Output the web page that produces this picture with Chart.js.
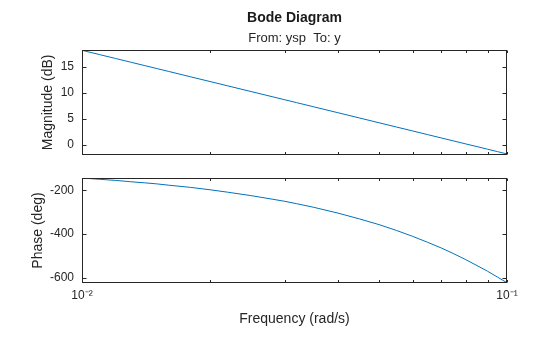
<!DOCTYPE html>
<html>
<head>
<meta charset="utf-8">
<script src="https://cdn.jsdelivr.net/npm/chart.js@4/dist/chart.umd.min.js"></script>
<style>
  html, body { margin: 0; padding: 0; background: #ffffff; }
  #wrap { position: relative; width: 560px; height: 337px; }
  canvas { position: absolute; left: 0; top: 0; }
</style>
</head>
<body>
<div id="wrap">
  <canvas id="mag" width="560" height="337"></canvas>
  <canvas id="phase" width="560" height="337"></canvas>
</div>
<script>
// ---- data ----
const freq = [0.01, 0.011, 0.012, 0.013, 0.014, 0.015, 0.016, 0.018, 0.02, 0.022, 0.025, 0.028,
              0.03, 0.032, 0.035, 0.04, 0.045, 0.05, 0.055, 0.06, 0.065, 0.07, 0.075, 0.08,
              0.085, 0.09, 0.095, 0.1];
const magDb = [18.2, 17.37, 16.62, 15.92, 15.28, 14.68, 14.12, 13.09, 12.18, 11.35, 10.24, 9.26,
               8.66, 8.10, 7.32, 6.16, 5.14, 4.22, 3.39, 2.64, 1.94, 1.30, 0.70, 0.14,
               -0.38, -0.88, -1.35, -1.8];
const phaseDeg = [-143, -149, -154, -160, -165, -170, -176, -186, -197, -208, -224, -240,
                  -250, -261, -277, -304, -331, -357, -384, -411, -438, -464, -491, -518,
                  -545, -571, -598, -624];
const xTickVals = [0.01, 0.02, 0.03, 0.04, 0.05, 0.06, 0.07, 0.08, 0.09, 0.1];
const xTickLabels = {0.01: '10⁻²', 0.1: '10⁻¹'};
const magTicks = [0, 5, 10, 15];
const phaseTicks = [-600, -400, -200];
const magRange = [-1.9, 18.2];
const phaseRange = [-625, -143];

// ---- styles ----
const FONT = '"Liberation Sans", Arial, Helvetica, sans-serif';
const AXC = '#262626';
const LINEC = '#0072BD';

const boxTicks = {
  id: 'boxTicks',
  afterDatasetsDraw(chart) {
    const ctx = chart.ctx, a = chart.chartArea;
    const xs = chart.scales.x, ys = chart.scales.y;
    const L = Math.round(a.left) + 0.5, R = Math.round(a.right) - 0.5;
    const T = Math.round(a.top) + 0.5, B = Math.round(a.bottom) - 0.5;
    ctx.save();
    ctx.strokeStyle = AXC;
    ctx.lineWidth = 1;
    ctx.beginPath();
    xTickVals.forEach(v => {
      const px = Math.round(xs.getPixelForValue(v)) + 0.5;
      ctx.moveTo(px, T); ctx.lineTo(px, T + 2.5);
      ctx.moveTo(px, B); ctx.lineTo(px, B - 2.5);
    });
    ys.ticks.forEach(t => {
      const py = Math.round(ys.getPixelForValue(t.value)) + 0.5;
      ctx.moveTo(L, py); ctx.lineTo(L + 4, py);
      ctx.moveTo(R, py); ctx.lineTo(R - 4, py);
    });
    ctx.stroke();
    ctx.strokeRect(L, T, R - L, B - T);
    ctx.restore();
  }
};

function xScale(showLabels, height, withTitle) {
  return {
    type: 'logarithmic',
    min: xTickVals[0],
    max: xTickVals[xTickVals.length - 1],
    grid: { display: false, drawTicks: false },
    border: { display: false },
    afterBuildTicks: s => { s.ticks = xTickVals.map(v => ({ value: v })); },
    afterFit: s => { s.height = height; },
    ticks: {
      display: showLabels,
      autoSkip: false,
      maxRotation: 0,
      padding: 5,
      color: AXC,
      font: { family: FONT, size: 12 },
      callback: v => xTickLabels[v] || ''
    },
    title: {
      display: withTitle,
      text: 'Frequency (rad/s)',
      color: AXC,
      font: { family: FONT, size: 14 },
      padding: { top: 0, bottom: 9.6 }
    }
  };
}

function yScale(range, tickVals, titleText, titlePad) {
  return {
    type: 'linear',
    min: range[0],
    max: range[1],
    grid: { display: false, drawTicks: false },
    border: { display: false },
    afterBuildTicks: s => { s.ticks = tickVals.map(v => ({ value: v })); },
    afterFit: s => { s.width = 82; },
    ticks: {
      padding: 8,
      color: AXC,
      font: { family: FONT, size: 12 }
    },
    title: {
      display: true,
      text: titleText,
      color: AXC,
      font: { family: FONT, size: 14 },
      padding: { top: titlePad, bottom: 0 }
    }
  };
}

function series(values) {
  return freq.map((f, i) => ({ x: f, y: values[i] }));
}

new Chart(document.getElementById('mag'), {
  type: 'line',
  data: {
    datasets: [{
      data: series(magDb),
      borderColor: LINEC,
      borderWidth: 1,
      pointRadius: 0,
      fill: false,
      tension: 0
    }]
  },
  options: {
    responsive: false,
    animation: false,
    devicePixelRatio: 1,
    layout: { padding: { top: 0, left: 0, right: 53, bottom: 182.5 } },
    plugins: {
      legend: { display: false },
      tooltip: { enabled: false },
      title: {
        display: true,
        fullSize: false,
        text: 'Bode Diagram',
        color: '#1a1a1a',
        font: { family: FONT, size: 14, weight: 'bold' },
        padding: { top: 10.2, bottom: 2 }
      },
      subtitle: {
        display: true,
        fullSize: false,
        text: 'From: ysp  To: y',
        color: AXC,
        font: { family: FONT, size: 13 },
        padding: { top: 1.2, bottom: 4.5 }
      }
    },
    scales: {
      x: xScale(false, 0, false),
      y: yScale(magRange, magTicks, 'Magnitude (dB)', 39.6)
    }
  },
  plugins: [boxTicks]
});

new Chart(document.getElementById('phase'), {
  type: 'line',
  data: {
    datasets: [{
      data: series(phaseDeg),
      borderColor: LINEC,
      borderWidth: 1,
      pointRadius: 0,
      fill: false,
      tension: 0
    }]
  },
  options: {
    responsive: false,
    animation: false,
    devicePixelRatio: 1,
    layout: { padding: { top: 178, left: 0, right: 53, bottom: 0 } },
    plugins: {
      legend: { display: false },
      tooltip: { enabled: false }
    },
    scales: {
      x: xScale(true, 54, true),
      y: yScale(phaseRange, phaseTicks, 'Phase (deg)', 30.1)
    }
  },
  plugins: [boxTicks]
});
</script>
</body>
</html>
